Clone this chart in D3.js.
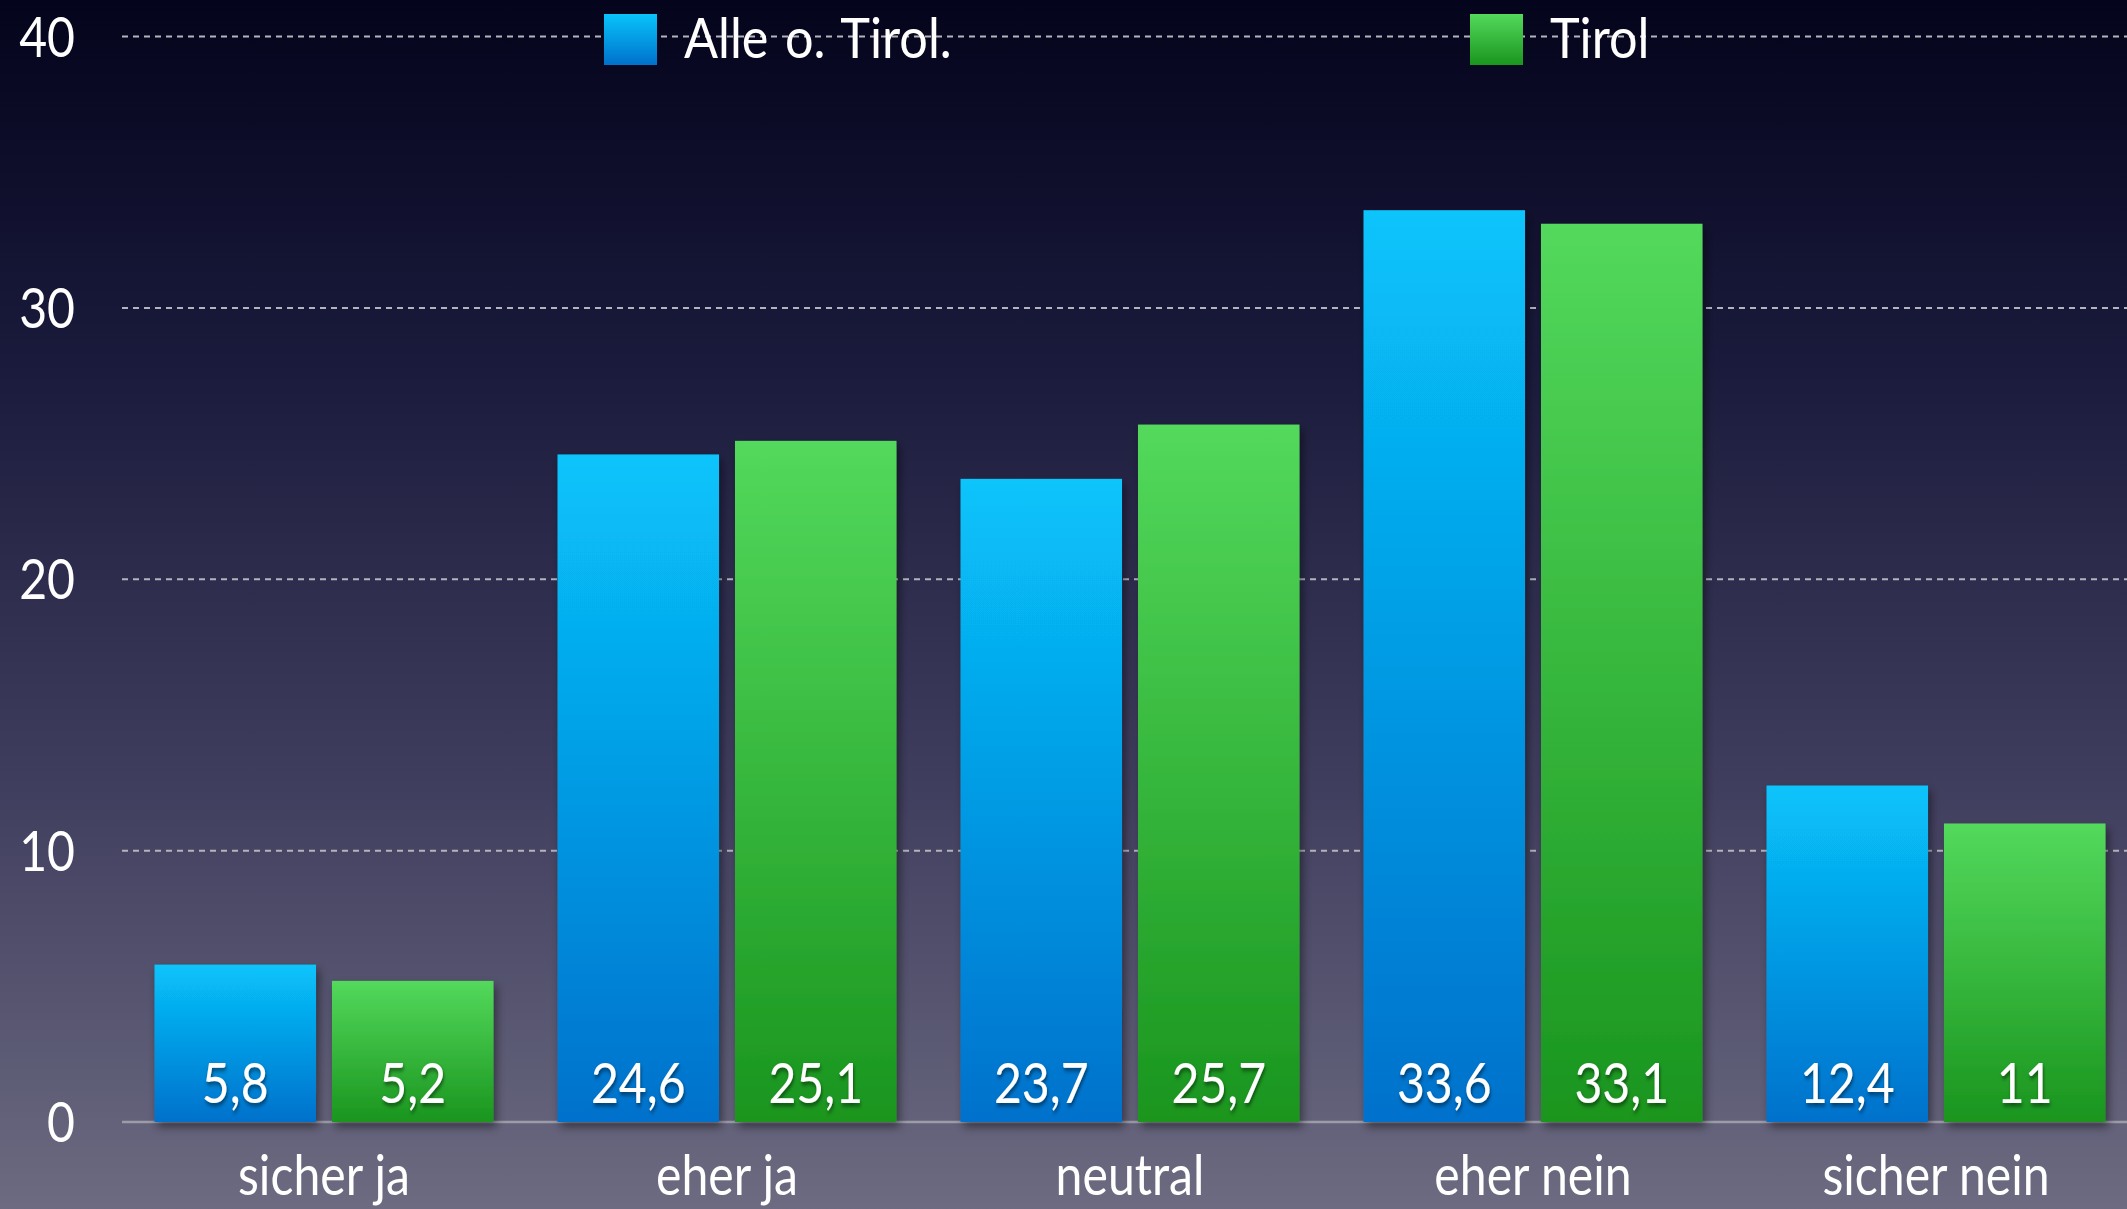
<!DOCTYPE html>
<html>
<head>
<meta charset="utf-8">
<script src="https://cdn.jsdelivr.net/npm/d3@7"></script>
<style>
  html, body { margin: 0; padding: 0; overflow: hidden; background: #05051f; }
  text { font-family: Lato, "Open Sans", sans-serif; font-weight: 400; fill: #fff; }
</style>
</head>
<body>
<svg id="chart"></svg>
<script>
// data
const categories = ["sicher ja", "eher ja", "neutral", "eher nein", "sicher nein"];
const seriesNames = ["Alle o. Tirol.", "Tirol"];
const alleValues = [5.8, 24.6, 23.7, 33.6, 12.4];
const tirolValues = [5.2, 25.1, 25.7, 33.1, 11];
const yTicks = [0, 10, 20, 30, 40];
const valueLabels = [["5,8", "24,6", "23,7", "33,6", "12,4"], ["5,2", "25,1", "25,7", "33,1", "11"]];

const W = 2127, H = 1209;
const SX = 0.86; // narrow the glyphs a bit, the original font is condensed

let svg = d3.select("#chart").attr("width", W).attr("height", H);
let defs = svg.append("defs");

// background
let bg = defs.append("linearGradient").attr("id", "bg").attr("x1", 0).attr("y1", 0).attr("x2", 0).attr("y2", 1);
bg.append("stop").attr("offset", "0").attr("stop-color", "#04041c");
bg.append("stop").attr("offset", "0.3").attr("stop-color", "#1a1a3c");
bg.append("stop").attr("offset", "0.65").attr("stop-color", "#403e5e");
bg.append("stop").attr("offset", "1").attr("stop-color", "#6c6b81");
svg.append("rect").attr("width", W).attr("height", H).attr("fill", "url(#bg)");

// bar gradients
const grads = [["gBlue", "#08c4fb", "#0071cc"], ["gGreen", "#53d95c", "#1a951e"]];
grads.forEach(g => {
  let lg = defs.append("linearGradient").attr("id", g[0]).attr("x1", 0).attr("y1", 0).attr("x2", 0).attr("y2", 1);
  lg.append("stop").attr("offset", "0").attr("stop-color", g[1]);
  lg.append("stop").attr("offset", "1").attr("stop-color", g[2]);
});

let shadow = defs.append("filter").attr("id", "shadow").attr("x", "-20%").attr("y", "-20%").attr("width", "140%").attr("height", "140%");
shadow.append("feDropShadow").attr("dx", 3).attr("dy", 5).attr("stdDeviation", 5).attr("flood-color", "#000").attr("flood-opacity", 0.45);
let tshadow = defs.append("filter").attr("id", "tshadow");
tshadow.append("feDropShadow").attr("dx", 1).attr("dy", 3).attr("stdDeviation", 2).attr("flood-color", "#000").attr("flood-opacity", 0.5);

// scales
let y = d3.scaleLinear().domain([0, 40]).range([1122, 36.5]);
let x0 = d3.scaleBand().domain(categories).range([122.5, 2137.5]).padding(0);
let x1 = d3.scaleBand().domain(seriesNames).range([32, x0.bandwidth() - 32]).paddingInner(0.09);

// gridlines
svg.append("g")
  .selectAll("line")
  .data(yTicks.filter(d => d > 0))
  .join("line")
    .attr("x1", 122).attr("x2", W)
    .attr("y1", d => y(d)).attr("y2", d => y(d))
    .attr("stroke", "#b4b4bc")
    .attr("stroke-width", 2)
    .attr("stroke-dasharray", "6,5");

svg.append("line")
  .attr("x1", 122).attr("x2", W)
  .attr("y1", y(0)).attr("y2", y(0))
  .attr("stroke", "#9c9ba8").attr("stroke-width", 2.5);

// y tick labels
svg.append("g")
  .selectAll("text")
  .data(yTicks)
  .join("text")
    .attr("transform", d => `translate(75,${y(d) + 20}) scale(${SX},1)`)
    .attr("text-anchor", "end")
    .style("font-size", "56px")
    .text(d => d);

// bars
let rows = categories.map((c, i) => ({ cat: c, vals: [alleValues[i], tirolValues[i]], idx: i }));
let groups = svg.append("g")
  .selectAll("g")
  .data(rows)
  .join("g")
    .attr("transform", d => `translate(${x0(d.cat)},0)`);

groups.selectAll("rect")
  .data(d => d.vals.map((v, s) => ({ v: v, s: s })))
  .join("rect")
    .attr("x", d => x1(seriesNames[d.s]))
    .attr("width", x1.bandwidth())
    .attr("y", d => y(d.v))
    .attr("height", d => y(0) - y(d.v))
    .attr("fill", d => d.s == 0 ? "url(#gBlue)" : "url(#gGreen)")
    .attr("filter", "url(#shadow)");

groups.selectAll("text.val")
  .data(d => d.vals.map((v, s) => ({ v: v, s: s, idx: d.idx })))
  .join("text")
    .attr("class", "val")
    .attr("transform", d => `translate(${x1(seriesNames[d.s]) + x1.bandwidth() / 2},${y(0) - 19}) scale(${SX},1)`)
    .attr("text-anchor", "middle")
    .attr("filter", "url(#tshadow)")
    .style("font-size", "56px")
    .text(d => valueLabels[d.s][d.idx]);

// category labels
svg.append("g")
  .selectAll("text")
  .data(categories)
  .join("text")
    .attr("transform", d => `translate(${x0(d) + x0.bandwidth() / 2},1195) scale(${SX},1)`)
    .attr("text-anchor", "middle")
    .style("font-size", "56px")
    .text(d => d);

// legend
const legendX = [604, 1470];
let legend = svg.append("g")
  .selectAll("g")
  .data(seriesNames)
  .join("g")
    .attr("transform", (d, i) => `translate(${legendX[i]},14)`);
legend.append("rect")
  .attr("width", 53).attr("height", 51)
  .attr("fill", (d, i) => i == 0 ? "url(#gBlue)" : "url(#gGreen)");
legend.append("text")
  .attr("transform", `translate(80,44) scale(0.9,1)`)
  .style("font-size", "56px")
  .style("word-spacing", "4px")
  .text(d => d);
</script>
</body>
</html>
